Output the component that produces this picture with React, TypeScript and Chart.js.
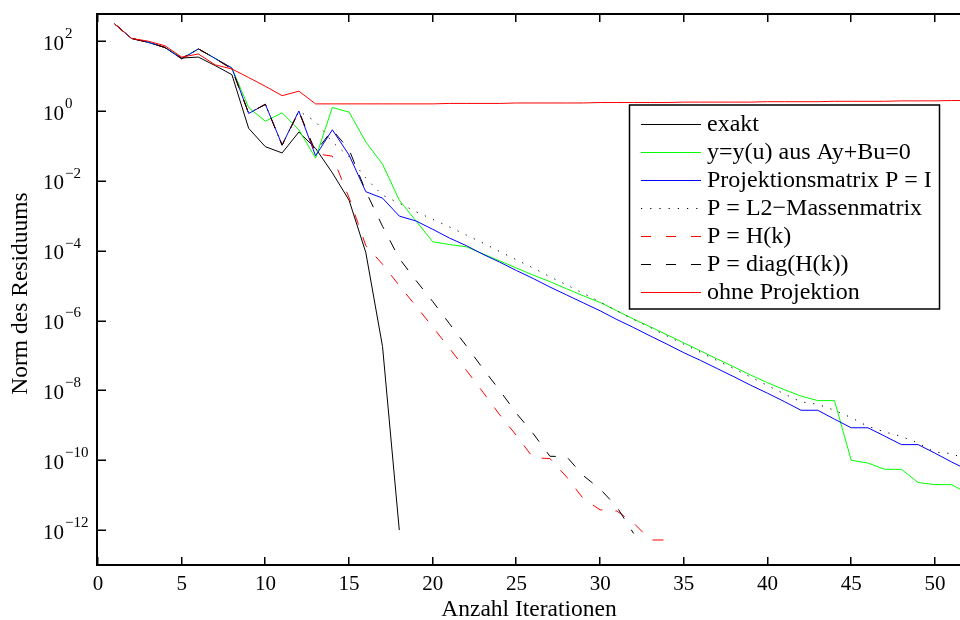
import React, { useEffect, useRef } from "react";
import { Chart, registerables } from "chart.js";

Chart.register(...registerables);

// ---------- data ----------
const iterations = [
  1, 2, 3, 4, 5, 6, 7, 8, 9, 10, 11, 12, 13, 14, 15, 16, 17, 18, 19, 20, 21, 22, 23, 24, 25, 26,
  27, 28, 29, 30, 31, 32, 33, 34, 35, 36, 37, 38, 39, 40, 41, 42, 43, 44, 45, 46, 47, 48, 49, 50, 51, 52,
];

const exakt = [
  3.1e2, 1.2e2, 93, 66, 33, 35, 20, 11, 0.32, 0.095, 0.063, 0.25, 0.085, 0.017, 2.8e-3, 8.9e-5, 1.8e-7, 1.0e-12,
];

const ausAyBu = [
  3.1e2, 1.2e2, 93, 66, 32, 60, 32, 17, 1.26, 0.51, 0.89, 0.29, 0.045, 1.26, 0.93, 0.13, 0.03, 2.8e-3,
  7.1e-4, 1.8e-4, 1.5e-4, 1.3e-4, 8.1e-5, 5.1e-5, 3.2e-5, 2.0e-5, 1.3e-5, 8.1e-6, 5.1e-6, 3.3e-6,
  1.9e-6, 1.1e-6, 6.6e-7, 3.9e-7, 2.3e-7, 1.35e-7, 7.9e-8, 4.7e-8, 2.75e-8, 1.66e-8, 1.05e-8, 6.9e-9,
  5.1e-9, 5.1e-9, 1.0e-10, 8.3e-11, 5.5e-11, 5.5e-11, 2.3e-11, 2.0e-11, 2.0e-11, 1.1e-11,
];

const projIdentity = [
  3.1e2, 1.2e2, 93, 66, 31, 60, 32, 17, 0.85, 1.55, 0.107, 1.0, 0.052, 0.29, 0.055, 4.9e-3, 3.2e-3, 9.8e-4,
  7.1e-4, 4.1e-4, 2.3e-4, 1.4e-4, 7.9e-5, 4.7e-5, 2.7e-5, 1.6e-5, 9.1e-6, 5.4e-6, 3.2e-6, 1.9e-6,
  1.07e-6, 6.3e-7, 3.6e-7, 2.1e-7, 1.2e-7, 7.2e-8, 4.2e-8, 2.45e-8, 1.4e-8, 8.3e-9, 4.8e-9, 2.7e-9,
  2.7e-9, 1.5e-9, 8.5e-10, 8.5e-10, 4.9e-10, 2.8e-10, 2.8e-10, 1.6e-10, 8.9e-11, 5.2e-11,
];

const projMass = [
  3.1e2, 1.2e2, 93, 66, 32, 60, 32, 16, 0.87, 1.55, 0.105, 1.0, 0.5, 0.13, 0.049, 1.2e-2, 3.9e-3, 2.3e-3,
  1.3e-3, 7.9e-4, 4.8e-4, 2.8e-4, 1.66e-4, 9.5e-5, 5.5e-5, 3.2e-5, 1.8e-5, 1.05e-5, 6.0e-6, 3.4e-6,
  1.9e-6, 1.07e-6, 6.3e-7, 3.6e-7, 2.1e-7, 1.23e-7, 7.1e-8, 4.2e-8, 2.4e-8, 1.38e-8, 7.9e-9, 4.7e-9,
  4.0e-9, 2.7e-9, 1.66e-9, 9.3e-10, 6.5e-10, 4.8e-10, 3.1e-10, 1.7e-10, 1.55e-10, 1.0e-10,
];

const projHk = [
  3.1e2, 1.2e2, 93, 66, 32, 60, 32, 16, 0.87, 1.55, 0.105, 0.98, 0.06, 0.051, 3.3e-3, 1.4e-4, 4.1e-5, 1.0e-5,
  2.6e-6, 6.5e-7, 1.6e-7, 3.8e-8, 8.9e-9, 2.0e-9, 5.1e-10, 1.17e-10, 1.12e-10, 3.3e-11, 7.9e-12, 3.8e-12,
  3.5e-12, 1.6e-12, 5.2e-13, 5.2e-13,
];

const projDiagHk = [
  3.1e2, 1.2e2, 93, 66, 32, 60, 32, 16, 0.87, 1.55, 0.105, 0.98, 0.068, 0.29, 0.079, 5.0e-3, 5.0e-4, 6.0e-5,
  1.4e-5, 3.5e-6, 8.1e-7, 1.9e-7, 4.2e-8, 1.0e-8, 2.2e-9, 5.8e-10, 1.3e-10, 1.26e-10, 3.6e-11, 1.5e-11,
  4.6e-12, 8.0e-13,
];

const ohneProjektion = [
  3.1e2, 1.2e2, 1.0e2, 74, 35, 43, 21, 16, 9.1, 5.1, 2.75, 3.7, 1.6, 1.6, 1.6, 1.6, 1.6, 1.6, 1.6, 1.6,
  1.65, 1.65, 1.65, 1.65, 1.7, 1.7, 1.7, 1.7, 1.7, 1.75, 1.75, 1.75, 1.75, 1.75, 1.8, 1.8, 1.8, 1.8, 1.8,
  1.85, 1.85, 1.85, 1.85, 1.9, 1.9, 1.9, 1.9, 1.95, 1.95, 1.95, 2.0, 2.0,
];

const seriesLabels = [
  "exakt",
  "y=y(u) aus Ay+Bu=0",
  "Projektionsmatrix P = I",
  "P = L2\u2212Massenmatrix",
  "P = H(k)",
  "P = diag(H(k))",
  "ohne Projektion",
];

const xTickValues = [0, 5, 10, 15, 20, 25, 30, 35, 40, 45, 50];
const yTickExponents = [2, 0, -2, -4, -6, -8, -10, -12];
const xAxisTitle = "Anzahl Iterationen";
const yAxisTitle = "Norm des Residuums";

const FONT = '"Liberation Serif", "Times New Roman", Times, serif';

export default function App() {
  const ref = useRef<HTMLCanvasElement>(null);

  useEffect(() => {
    const canvas = ref.current;
    if (!canvas) return;

    const styles = [
      { values: exakt, color: "#000000", dash: [] as number[], legendDash: [] as number[] },
      { values: ausAyBu, color: "#00ff00", dash: [], legendDash: [] },
      { values: projIdentity, color: "#0000ff", dash: [], legendDash: [] },
      { values: projMass, color: "#000000", dash: [1.2, 7.8], legendDash: [1.2, 8] },
      { values: projHk, color: "#ff0000", dash: [11, 13], legendDash: [10, 15] },
      { values: projDiagHk, color: "#000000", dash: [11, 13], legendDash: [10, 15] },
      { values: ohneProjektion, color: "#ff0000", dash: [], legendDash: [] },
    ];

    const datasets = styles.map((s, i) => ({
      label: seriesLabels[i],
      data: s.values.map((v, j) => ({ x: iterations[j], y: v })),
      borderColor: s.color,
      backgroundColor: s.color,
      borderWidth: 1,
      borderDash: s.dash,
      pointRadius: 0,
      pointHoverRadius: 0,
      tension: 0,
      fill: false,
      order: styles.length - i,
    }));

    const axesPlugin = {
      id: "matlabAxes",
      afterDatasetsDraw(chart: any) {
        const { ctx, chartArea } = chart;
        const { left, top, right, bottom } = chartArea;
        const xs = chart.scales.x;
        const ys = chart.scales.y;
        ctx.save();
        ctx.setLineDash([]);
        ctx.strokeStyle = "#000";
        // box
        ctx.lineWidth = 2;
        ctx.beginPath();
        ctx.moveTo(right + 5, top);
        ctx.lineTo(left - 1, top);
        ctx.lineTo(left - 1, bottom);
        ctx.lineTo(right + 5, bottom);
        ctx.stroke();
        // ticks
        ctx.lineWidth = 1.5;
        ctx.beginPath();
        xs.ticks.forEach((t: any) => {
          const px = Math.round(xs.getPixelForValue(t.value)) - 0.25;
          ctx.moveTo(px, bottom);
          ctx.lineTo(px, bottom - 8);
          ctx.moveTo(px, top);
          ctx.lineTo(px, top + 8);
        });
        ys.ticks.forEach((t: any) => {
          const py = Math.round(ys.getPixelForValue(t.value)) + 0.25;
          ctx.moveTo(left - 1, py);
          ctx.lineTo(left + 8, py);
        });
        ctx.stroke();

        // x tick labels
        ctx.fillStyle = "#000";
        ctx.font = `21px ${FONT}`;
        ctx.textAlign = "center";
        ctx.textBaseline = "middle";
        xs.ticks.forEach((t: any) => {
          ctx.fillText(String(t.value), xs.getPixelForValue(t.value), bottom + 19);
        });
        // x title
        ctx.font = `23.5px ${FONT}`;
        ctx.fillText(xAxisTitle, (left + right) / 2, bottom + 45);

        // y tick labels (10 with superscript exponent)
        ys.ticks.forEach((t: any) => {
          const py = ys.getPixelForValue(t.value);
          const exp = Math.round(Math.log10(t.value));
          ctx.textAlign = "left";
          ctx.font = `21px ${FONT}`;
          ctx.fillText("10", 43, py + 3);
          const w = ctx.measureText("10").width;
          ctx.font = `15px ${FONT}`;
          const expText = exp < 0 ? "\u2212" + String(-exp) : String(exp);
          ctx.fillText(expText, 43 + w + 1, py - 7);
        });

        // y title
        ctx.save();
        ctx.translate(21, (top + bottom) / 2 + 4);
        ctx.rotate(-Math.PI / 2);
        ctx.textAlign = "center";
        ctx.textBaseline = "middle";
        ctx.font = `23.5px ${FONT}`;
        ctx.fillText(yAxisTitle, 0, 0);
        ctx.restore();
        ctx.restore();
      },
      afterDraw(chart: any) {
        const { ctx } = chart;
        const bx = 629.5, by = 105, bw = 310, bh = 204;
        ctx.save();
        ctx.fillStyle = "#fff";
        ctx.fillRect(bx, by, bw, bh);
        ctx.setLineDash([]);
        ctx.strokeStyle = "#000";
        ctx.lineWidth = 1.5;
        ctx.strokeRect(bx, by, bw, bh);
        const rowY0 = 123.5;
        const rowStep = 28.05;
        styles.forEach((s, i) => {
          const y = rowY0 + i * rowStep;
          ctx.beginPath();
          ctx.strokeStyle = s.color;
          ctx.lineWidth = 1;
          ctx.setLineDash(s.legendDash);
          ctx.moveTo(641, Math.round(y) + 0.5);
          ctx.lineTo(701, Math.round(y) + 0.5);
          ctx.stroke();
          ctx.setLineDash([]);
          ctx.fillStyle = "#000";
          ctx.font = `24px ${FONT}`;
          ctx.textAlign = "left";
          ctx.textBaseline = "middle";
          ctx.fillText(seriesLabels[i], 707, y + 1);
        });
        ctx.restore();
      },
    };

    const chart = new Chart(canvas, {
      type: "line",
      data: { datasets: datasets as any },
      options: {
        animation: false,
        responsive: false,
        maintainAspectRatio: false,
        devicePixelRatio: 1,
        layout: { padding: { top: 14, left: 0, right: 0, bottom: 0 } },
        plugins: { legend: { display: false }, tooltip: { enabled: false }, title: { display: false } },
        events: [],
        scales: {
          x: {
            type: "linear",
            min: 0,
            max: 51.5,
            grid: { display: false },
            border: { display: false },
            ticks: { display: false },
            title: { display: false },
            afterBuildTicks: (s: any) => {
              s.ticks = xTickValues.map((v) => ({ value: v }));
            },
            afterFit: (s: any) => {
              s.height = 55;
            },
          },
          y: {
            type: "logarithmic",
            min: 1e-13,
            max: 600,
            grid: { display: false },
            border: { display: false },
            ticks: { display: false },
            title: { display: false },
            afterBuildTicks: (s: any) => {
              s.ticks = yTickExponents.map((e) => ({ value: Math.pow(10, e) }));
            },
            afterFit: (s: any) => {
              s.width = 98;
            },
          },
        },
      },
      plugins: [axesPlugin],
    });

    return () => chart.destroy();
  }, []);

  return (
    <div style={{ position: "absolute", left: 0, top: 0, width: 960, height: 620, background: "#fff" }}>
      <canvas ref={ref} width={960} height={620} style={{ display: "block", width: 960, height: 620 }} />
    </div>
  );
}
